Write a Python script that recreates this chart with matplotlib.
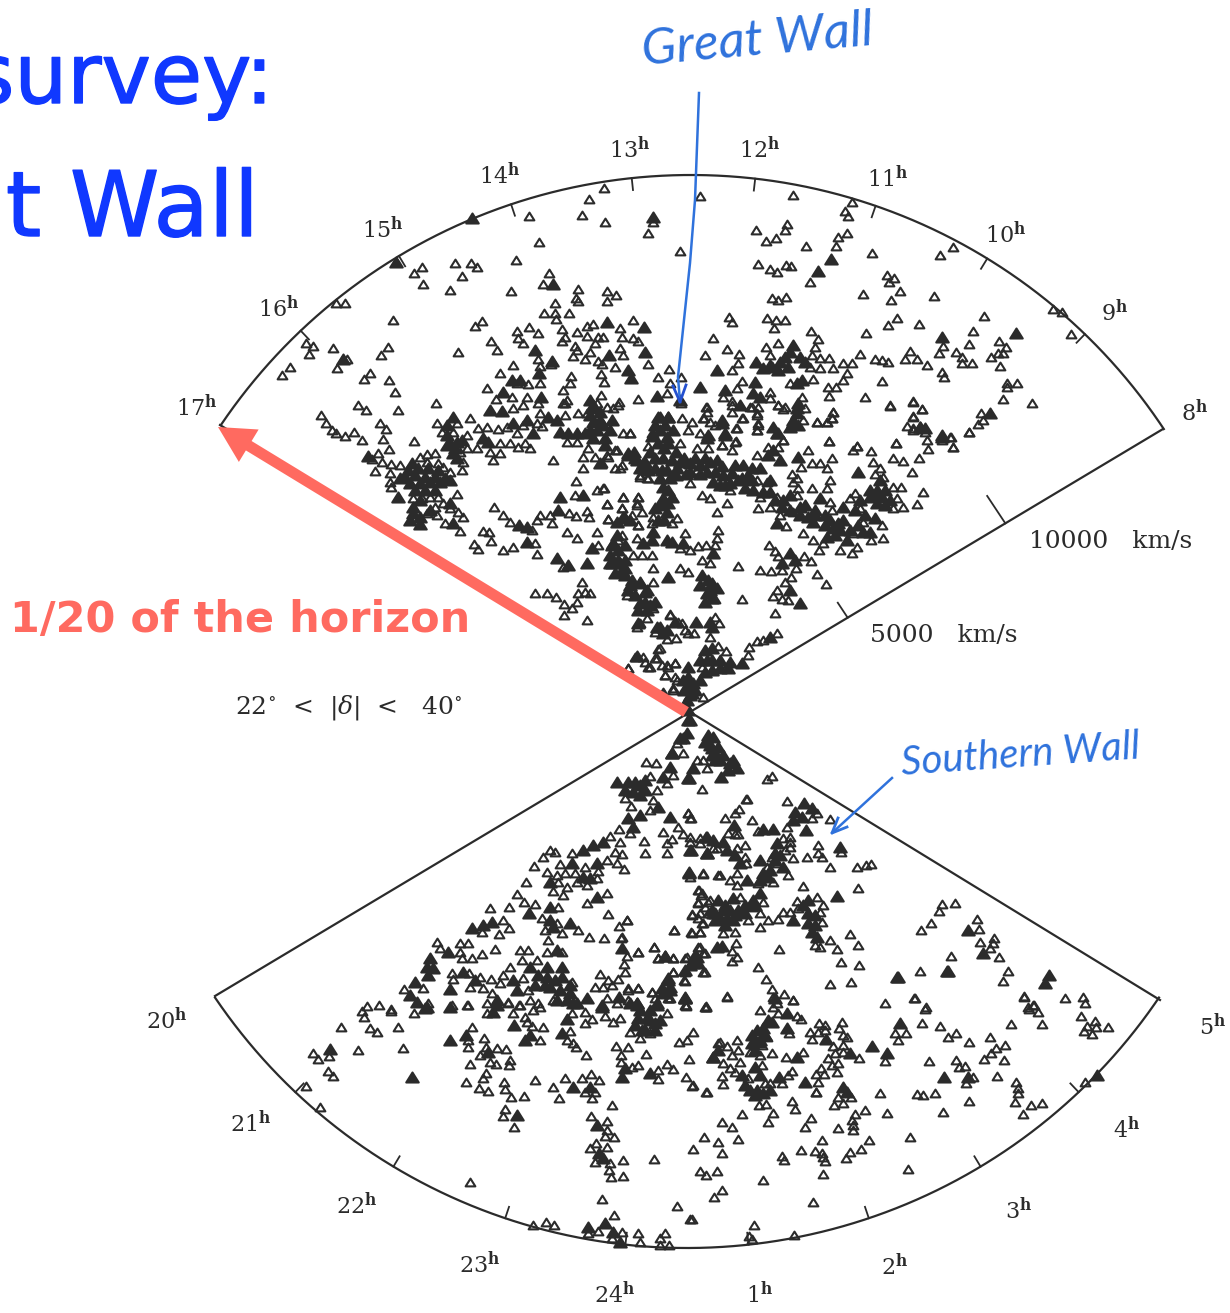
import numpy as np
import matplotlib
matplotlib.use("Agg")
import matplotlib.pyplot as plt
import matplotlib.patheffects as pe
from matplotlib.path import Path

# galaxy positions (map x, map y)
# "open" = single triangles, "dense" = spots where the triangles merge to a blob
north_open = [
(604,188),(589,199),(529,216),(582,215),(605,222),(653,222),(648,233),(539,242),(680,251),(516,260),
(422,267),(414,273),(455,263),(471,263),(477,267),(462,276),(423,284),(450,290),(511,291),(549,273),
(543,284),(578,289),(576,298),(578,301),(607,291),(616,295),(607,301),(336,303),(345,303),(555,303),
(544,313),(555,313),(569,313),(556,319),(393,320),(482,321),(475,326),(517,331),(529,327),(538,333),
(562,329),(565,337),(562,341),(577,332),(587,326),(593,324),(587,336),(633,320),(620,328),(622,337),
(598,337),(603,337),(633,338),(638,341),(518,338),(523,343),(491,341),(497,350),(575,346),(577,350),
(595,343),(590,352),(620,348),(623,355),(573,356),(585,359),(538,359),(598,361),(602,364),(552,361),
(551,364),(540,366),(458,352),(388,347),(381,355),(333,348),(306,343),(313,346),(309,354),(343,359),
(347,359),(337,368),(290,367),(282,375),(370,373),(364,379),(389,380),(395,392),(358,405),(366,410),
(398,410),(436,403),(321,415),(326,423),(332,430),(336,433),(345,436),(354,432),(362,440),(380,423),
(386,429),(383,439),(414,441),(513,365),(500,373),(517,383),(528,384),(540,383),(487,388),(496,399),
(512,397),(527,397),(571,376),(570,383),(563,390),(567,400),(563,403),(601,374),(604,382),(615,367),
(648,364),(658,377),(669,369),(670,383),(681,377),(667,393),(638,399),(619,402),(601,395),(597,403),
(607,407),(613,408),(681,403),
(389,449),(378,453),(372,459),(382,462),(375,471),(391,464),(400,465),(390,473),(390,482),(391,487),
(420,457),(427,454),(435,453),(427,462),(438,463),(443,467),(450,472),(462,470),(463,462),(470,418),
(437,423),(457,423),(442,432),(453,432),(467,435),(460,452),(467,448),(477,448),(490,452),(500,453),
(493,460),(478,428),(487,427),(500,443),(510,443),(518,447),(530,448),(525,443),(498,429),(507,427),
(517,433),(523,425),(513,408),(523,405),(538,403),(565,403),(540,413),(565,415),(578,413),(587,413),
(537,423),(542,426),(567,442),(577,442),(618,405),(623,433),(630,433),(588,448),(583,457),(583,468),
(595,457),(608,457),(617,450),(615,468),(622,465),(640,477),(647,478),(553,460),(576,481),(604,488),
(597,490),(575,495),(494,507),(503,515),(510,522),(532,530),(537,520),(540,515),(550,515),(569,513),
(576,516),(552,523),(587,511),(589,517),(607,504),(608,519),(623,497),(638,497),(622,508),(637,503),
(632,515),(638,525),(567,532),(577,538),(597,532),(598,545),(483,531),(489,532),(491,541),(474,544),
(478,549),(503,550),(513,547),(535,543),(537,554),(563,567),(582,582),(585,592),(590,593),(578,593),
(535,593),(547,593),(556,597),(564,604),(577,602),(564,615),(572,608),(587,620),(457,494),(413,498),
(422,498),(430,497),(438,497),(435,507),(443,503),(437,515),(450,508),(458,512),(463,517),(445,523),
(460,531),(427,513),(618,540),(627,595),(653,608),(647,618),(670,615),(678,622),(685,630),(660,648),
(657,658),(645,662),(650,667),(628,668),(667,665),(675,663),(665,675),(677,680),(673,688),(663,692),
(653,433),(640,475),(648,478),(702,495),(710,498),(727,503),(717,512),(690,483),(697,470),(730,490),
(653,517),(672,523),(677,518),(757,480),(767,482),(760,497),(777,497),(758,508),(770,507),(830,502),
(832,510),(793,512),(780,515),(786,526),(803,533),(823,543),(813,540),(819,550),(840,550),(852,553),
(857,547),(853,533),(883,538),(871,540),(863,522),(882,525),(855,493),(850,498),(860,508),(893,487),
(901,487),(897,498),(893,508),(903,507),(917,504),(923,492),(912,472),(903,461),(893,458),(919,458),
(883,477),(875,474),(880,468),(873,462),(871,451),(896,443),(857,446),(853,450),(830,480),(827,488),
(812,488),(798,488),(797,495),(792,474),(797,478),(793,482),(801,467),(827,468),(820,463),(812,463),
(832,458),(808,450),(783,440),(757,455),(778,447),(829,441),(833,412),(832,418),(827,422),(817,422),
(890,405),(913,416),(922,409),(913,402),(907,426),(913,430),(925,432),(927,440),(928,449),(950,437),
(953,447),(969,432),(942,440),(803,420),(785,407),(778,405),(732,405),(743,418),(752,407),(757,413),
(758,423),(757,430),(740,405),(707,407),(704,418),(715,425),(736,428),(722,445),(736,441),(732,450),
(700,433),(682,418),(692,422),(688,430),(680,443),(697,448),(708,448),(630,433),(652,433),(648,446),
(620,468),(615,450),(607,455),(602,463),(623,497),(638,497),(603,488),(607,504),(637,505),(622,508),
(608,519),(642,512),(638,525),(652,523),(622,535),(637,538),(685,533),(698,546),(706,545),(718,530),
(717,538),(715,545),(690,550),(680,548),(652,555),(642,555),(633,555),(653,568),(653,582),(680,568),
(688,572),(702,560),(710,563),(715,599),(640,623),(637,627),(670,614),(682,623),(688,633),(694,633),
(655,632),(667,639),(676,638),(715,617),(719,623),(738,566),(760,570),(771,571),(782,570),(791,577),
(785,582),(777,590),(773,596),(782,599),(788,600),(775,613),(742,599),(769,545),(775,551),(778,556),
(804,556),(811,561),(796,568),(817,574),(826,584),(757,641),(763,640),(777,633),(749,647),(748,655),
(710,637),(718,646),(726,651),(702,667),(658,649),(655,658),(635,657),(643,657),(648,667),(662,665),
(675,663),(668,667),(665,675),(675,677),(628,668),(703,697),(663,693),(673,690),
(700,196),(793,195),(852,202),(845,211),(848,216),(787,224),(785,230),(756,230),(766,241),(776,238),
(806,246),(847,233),(838,237),(836,246),(872,253),(953,247),(940,255),(758,264),(770,269),(777,272),
(786,265),(791,266),(810,282),(887,275),(894,278),(889,282),(863,294),(900,291),(891,300),(934,296),
(772,298),(778,300),(786,297),(729,317),(732,322),(767,318),(776,320),(785,320),(774,328),(811,331),
(818,339),(897,318),(888,325),(919,324),(866,333),(984,316),(973,331),(1053,309),(1062,312),(1071,334),
(713,338),(705,355),(727,349),(739,354),(738,363),(732,370),(766,347),(778,343),(770,355),(815,347),
(812,355),(820,358),(829,358),(820,368),(810,367),(833,368),(843,363),(852,363),(860,354),(875,359),
(882,360),(888,362),(847,373),(843,380),(882,381),(828,387),(836,387),(829,396),(865,397),(890,406),
(913,401),(922,409),(913,417),(905,359),(910,351),(917,359),(927,365),(943,346),(939,353),(942,372),
(944,377),(956,352),(962,357),(962,363),(972,363),(969,344),(999,341),(1006,347),(998,353),(1003,353),
(991,357),(1000,366),(1007,383),(1017,383),(1007,387),(1003,399),(1032,403),(981,413),(983,420),(978,424),
(969,432),(951,437),(953,447),(896,443),(913,428),(737,388),(723,397),(742,381),(770,392),(770,398),
(732,401),(706,407),(707,412),(703,418),(732,412),(742,418),(737,428),(710,422),(722,445),(735,442),
(750,407),(758,407),(757,415),(778,405),(783,409),(758,425),(757,430),(783,440),(768,447),(805,408),
(802,397),(790,383),(813,379),(817,422),(827,422),(833,412),(832,418),(829,441),(857,446),
]
north_dense = [
(653,217),(472,218),(396,262),(553,284),(607,322),(644,327),(535,350),(645,352),(609,355),(552,361),
(343,359),(539,373),(512,380),(520,380),(503,392),(541,397),(628,370),(631,378),(657,396),(590,400),
(592,408),(680,400),(368,456),(412,463),(405,477),(415,475),(425,477),(435,477),(445,478),(410,483),
(420,483),(430,482),(440,482),(450,480),(453,417),(447,425),(450,443),(457,442),(447,445),(453,453),
(457,458),(483,438),(488,442),(513,423),(527,420),(533,433),(490,410),(502,411),(548,417),(557,420),
(560,432),(568,433),(577,433),(585,433),(593,405),(600,412),(593,422),(597,430),(593,438),(605,438),
(610,430),(612,420),(600,463),(628,453),(635,458),(643,463),(583,495),(560,497),(519,525),(527,527),
(558,510),(625,518),(592,548),(527,542),(557,558),(568,565),(587,563),(398,497),(413,507),(413,513),
(420,517),(450,503),(453,523),(612,545),(618,560),(612,563),(625,568),(632,580),(640,582),(647,590),
(640,603),(638,623),(657,627),(663,633),(637,656),
(658,417),(668,417),(660,417),(668,417),(660,430),(667,437),(658,443),(668,443),(628,455),(637,460),
(645,462),(655,458),(663,458),(672,460),(680,462),(690,463),(700,465),(710,462),(717,460),(715,472),
(723,475),(732,473),(743,465),(752,468),(760,468),(667,470),(655,468),(677,468),(707,472),(713,482),
(725,485),(663,487),(668,490),(663,498),(668,503),(667,512),(655,508),(745,488),(753,490),(763,492),
(770,492),(783,500),(782,507),(800,507),(808,517),(813,522),(820,498),(843,507),(777,523),(838,523),
(843,520),(833,528),(827,537),(847,540),(863,532),(870,532),(875,518),(860,500),(877,490),(882,497),
(877,503),(885,490),(858,472),(798,457),(777,433),(773,450),(768,455),(780,460),(920,427),(942,435),
(797,408),(793,422),(722,423),(707,438),(725,433),(623,517),(617,522),(630,520),(653,532),(613,543),
(643,543),(652,540),(667,540),(672,542),(683,543),(610,563),(620,563),(625,560),(615,573),(625,575),
(630,585),(640,583),(645,592),(668,577),(713,553),(702,575),(712,583),(717,588),(707,593),(705,602),
(655,602),(647,610),(638,610),(660,627),(667,630),(675,622),(696,622),(710,622),(712,627),(782,563),
(790,553),(795,560),(790,590),(800,603),(770,637),(742,663),(705,650),(712,648),(707,660),(712,670),
(720,668),(728,668),(688,667),(688,677),(688,687),(683,680),(693,683),(692,693),(687,700),(688,710),
(1016,333),(831,259),(818,271),(717,370),(793,345),(756,362),(763,368),(772,367),(780,362),(785,357),
(788,367),(778,370),(800,357),(805,362),(942,337),(990,413),(925,428),(920,427),(942,437),(700,387),
(725,390),(755,382),(753,393),(760,397),(740,405),(722,420),(708,435),(725,435),(773,427),(778,433),
(793,420),(790,427),(798,425),(798,403),(797,413),(797,383),(802,380),
(634,452),(650,452),(664,448),(676,452),(684,458),(695,458),(705,458),(722,466),(735,465),(748,475),
(738,480),(720,485),(690,472),(700,474),(640,468),(648,470),(660,478),(670,478),(662,470),(660,505),
(672,497),(658,520),(664,520),(400,478),(408,470),(418,468),(428,468),(438,470),(415,490),(425,490),
(435,490),(420,500),(410,520),(420,524),(430,510),(447,435),(455,448),(462,440),(590,415),(600,420),
(590,430),(603,425),(605,445),(610,555),(618,550),(622,570),(628,590),(635,595),(645,602),(650,605),
(617,535),(625,545),(700,585),(710,590),(712,598),(708,580),(752,480),(775,500),(790,510),(800,515),
(815,510),(825,525),(835,535),(850,530),(858,525),(870,497),(885,505),(875,495),(690,695),(685,705),
(684,690),(695,690),(700,680),(705,672),(700,660),(712,660),(720,660),(730,662),(770,365),(790,352),
(790,495),(805,505),(815,515),(825,515),(830,520),(840,530),(855,510),(865,515),(870,490),(880,480),
(890,500),(730,483),(742,478),(770,480),(676,475),(686,474),(652,436),(673,430),(665,425),(655,425),
]
south_open = [
(677,743),(646,762),(656,763),(683,753),(650,776),(673,775),(657,790),(667,783),(697,760),(703,760),
(707,768),(702,789),(625,798),(631,806),(653,800),(650,810),(630,833),(678,827),(688,813),(690,818),
(683,834),(690,837),(663,832),(672,839),(667,843),(644,841),(645,853),(667,853),(700,843),(713,848),
(619,829),(610,836),(620,842),(572,853),(560,864),(615,852),(622,854),(607,860),(617,863),(624,869),
(598,871),(585,867),(550,850),(555,852),(534,866),(543,857),(547,872),(557,875),(565,873),(558,882),
(575,873),(597,878),(577,882),(587,885),(553,891),(567,887),(563,895),(526,882),(517,894),(587,903),
(607,893),(608,914),(627,920),(619,926),(621,938),(589,937),(604,938),(578,930),(558,907),(535,904),
(524,902),(509,907),(490,908),(503,920),(509,928),(499,934),(482,932),(542,918),(545,930),(548,940),
(562,933),(557,923),(674,930),(692,933),(700,932),(692,915),(698,918),(702,923),(698,890),(702,893),
(698,903),(710,900),(705,907),(703,873),(690,877),(718,875),(437,942),(440,948),(460,943),(468,943),
(460,952),(462,958),(472,958),(482,954),(495,949),(520,950),(528,950),(522,960),(537,960),(547,952),
(562,952),(452,973),(469,973),(453,979),(404,989),(423,988),(428,1003),(367,1006),(379,1005),(391,1009),
(452,1005),(468,1005),(480,977),(491,979),(470,987),(483,988),(492,993),(500,983),(503,975),(510,967),
(523,978),(528,990),(572,982),(553,1000),(487,1003),(508,1002),(520,1005),(530,1000),(538,1003),(600,974),
(608,980),(618,979),(595,987),(603,987),(612,985),(628,988),(638,988),(607,998),(628,1000),(652,992),
(654,947),(638,952),(658,958),(673,958),(673,972),(685,981),(687,957),(627,956),(624,964),(625,972),
(698,947),(703,953),(703,972),(668,998),(686,1005),(705,1007),
(362,1011),(364,1017),(391,1011),(414,1013),(467,1005),(341,1027),(370,1028),(377,1032),(398,1027),(313,1053),
(329,1056),(318,1059),(358,1050),(403,1048),(328,1071),(333,1076),(306,1086),(320,1107),(472,1027),(468,1040),
(468,1047),(484,1038),(486,1047),(480,1055),(497,1048),(506,1049),(470,1064),(490,1062),(496,1064),(510,1060),
(509,1065),(486,1073),(483,1078),(466,1082),(504,1082),(479,1088),(488,1091),(505,1089),(511,1097),(524,1096),
(535,1080),(553,1087),(565,1078),(559,1098),(582,1078),(591,1074),(599,1080),(585,1092),(595,1092),(592,1098),
(612,1105),(505,1109),(503,1116),(514,1127),(591,1116),(607,1121),(607,1130),(605,1136),(614,1137),(596,1143),
(607,1147),(590,1148),(595,1162),(610,1163),(623,1160),(609,1170),(611,1177),(623,1176),(654,1159),(470,1182),
(602,1199),(614,1215),(677,1206),(690,1219),(533,1225),(546,1222),(554,1225),(588,1233),(598,1231),(622,1232),
(612,1238),(638,1233),(640,1242),(665,1233),(660,1238),(660,1245),(669,1245),(616,1046),(628,1047),(586,1055),
(646,1054),(621,1055),(621,1062),(638,1065),(632,1067),(658,1070),(658,1079),(667,1064),(673,1069),(686,1077),
(692,1086),(707,1092),(689,1059),(679,1042),(687,1040),(693,1032),(718,1043),(527,1022),(532,1026),(543,1027),
(540,1040),(525,1017),(570,1031),(567,1040),(573,1043),(576,1047),(585,1023),(592,1019),(613,1022),(605,1016),
(620,1018),(487,1013),(508,1003),(519,1005),(513,1013),(533,1010),(540,1007),(572,1013),(585,1012),(617,1003),
(630,1032),(650,1033),(640,1038),(667,1013),(670,998),(686,1006),(706,1006),
(688,813),(691,818),(746,799),(767,779),(772,776),(787,801),(747,799),(830,819),(787,827),(812,818),
(812,808),(817,813),(790,837),(758,831),(790,842),(725,818),(735,813),(739,809),(752,820),(735,834),
(728,833),(738,834),(700,838),(690,842),(717,848),(737,848),(745,845),(745,857),(746,863),(703,874),
(720,875),(737,873),(730,880),(737,885),(699,890),(701,895),(783,838),(790,847),(785,850),(793,858),
(772,857),(767,867),(777,863),(788,875),(758,883),(773,882),(807,857),(818,845),(818,853),(822,857),
(841,852),(830,867),(857,867),(866,865),(871,864),(858,888),(803,886),(708,902),(698,902),(740,897),
(692,914),(700,913),(708,913),(703,923),(723,933),(735,932),(691,932),(700,932),(674,930),(627,920),
(622,937),(763,902),(752,907),(760,913),(748,920),(760,927),(768,920),(778,919),(783,912),(790,912),
(797,901),(817,897),(823,905),(798,908),(820,912),(822,922),(830,940),(815,945),(820,947),(837,949),
(850,934),(858,945),(841,962),(859,965),(830,984),(851,982),(779,949),(758,967),(766,979),(772,989),
(773,997),(784,994),(793,1000),(777,1003),(921,930),(931,923),(939,911),(942,904),(955,903),(977,919),
(979,929),(994,938),(980,942),(993,943),(990,948),(999,957),(951,956),(920,971),(1008,971),(1003,981),
(914,998),(885,1003),(926,1007),(1024,996),(1033,1005),(1028,1007),(654,947),(638,952),(658,958),(673,958),
(685,958),(700,947),(705,953),(685,972),(705,972),(673,972),(684,980),(736,943),(732,951),(737,957),
(732,961),(652,992),(638,988),(628,990),(685,1005),(669,998),(655,998),(727,996),(706,1007),
(727,997),(706,1007),(793,1000),(760,1010),(773,1007),(778,1013),(797,1016),(801,1019),(915,998),(925,1009),
(1024,997),(1065,998),(1083,997),(1085,1003),(1034,1005),(1029,1009),(1038,1012),(1081,1016),(1011,1024),(1042,1024),
(1095,1021),(1087,1026),(1096,1027),(1108,1027),(1084,1031),(1092,1034),(789,1033),(767,1037),(720,1042),(727,1046),
(737,1040),(732,1055),(738,1050),(750,1052),(762,1045),(772,1053),(760,1055),(786,1057),(803,1052),(723,1063),
(740,1062),(730,1068),(762,1065),(722,1076),(735,1072),(748,1078),(765,1083),(770,1083),(782,1083),(792,1071),
(788,1075),(723,1084),(706,1092),(693,1085),(816,1092),(818,1082),(766,1104),(759,1105),(792,1101),(795,1109),
(742,1114),(773,1113),(768,1122),(722,1122),(732,1127),(811,1118),(805,1127),(704,1137),(718,1142),(738,1139),
(693,1149),(722,1153),(782,1156),(784,1160),(801,1150),(815,1151),(822,1153),(823,1157),(825,1161),(822,1140),
(700,1171),(706,1175),(717,1171),(823,1174),(763,1180),(722,1190),(714,1197),(813,1202),(692,1219),(754,1225),
(749,1236),(752,1239),(794,1235),(819,1023),(825,1025),(842,1022),(839,1028),(810,1032),(818,1032),(825,1030),
(843,1035),(847,1037),(812,1039),(833,1046),(843,1045),(835,1053),(843,1052),(859,1058),(828,1058),(838,1063),
(832,1065),(837,1072),(821,1068),(816,1074),(824,1074),(885,1061),(895,1033),(906,1033),(898,1040),(922,1023),
(940,1026),(948,1037),(956,1033),(969,1042),(990,1037),(1005,1045),(996,1048),(991,1053),(984,1059),(1004,1060),
(929,1061),(956,1060),(959,1067),(965,1066),(973,1077),(966,1083),(997,1076),(1016,1082),(1018,1088),(1018,1093),
(1015,1102),(1031,1105),(1042,1103),(1023,1114),(1085,1082),(880,1093),(917,1094),(923,1095),(935,1093),(969,1101),
(943,1112),(887,1113),(910,1137),(908,1169),(838,1097),(851,1097),(843,1103),(834,1105),(816,1092),(865,1110),
(855,1114),(852,1120),(853,1125),(853,1130),(838,1128),(869,1140),(861,1149),(850,1152),(846,1158),
]
south_dense = [
(688,720),(687,733),(683,738),(672,753),(670,767),(663,777),(688,778),(693,768),(617,782),(628,782),
(640,785),(633,792),(645,790),(658,807),(640,815),(628,818),(633,827),(670,817),(707,837),(691,850),
(707,853),(603,842),(593,845),(583,850),(572,863),(597,863),(550,882),(583,877),(590,878),(597,897),
(570,923),(550,907),(529,913),(492,922),(483,925),(472,928),(550,920),(553,927),(713,913),(689,872),
(448,952),(557,950),(430,958),(427,967),(433,968),(428,975),(463,972),(415,982),(410,995),(417,1002),
(450,989),(425,1008),(475,980),(517,990),(513,980),(530,967),(538,975),(547,967),(547,977),(562,967),
(562,977),(550,987),(560,990),(570,993),(567,1000),(577,1003),(587,998),(497,1000),(619,997),(637,1003),
(602,1007),(657,1003),(665,956),(622,948),(697,957),(693,963),(685,970),(668,980),(670,990),(663,993),
(685,998),(717,947),
(427,1007),(450,1007),(330,1049),(412,1077),(450,1040),(466,1035),(488,1052),(573,1087),(590,1087),(517,1115),
(597,1125),(599,1153),(603,1158),(588,1227),(605,1223),(613,1232),(620,1242),(625,1068),(622,1077),(650,1073),
(713,1057),(514,1025),(525,1040),(530,1035),(562,1033),(567,1019),(497,1005),(493,1012),(557,1000),(573,1003),
(602,1005),(637,1005),(638,1018),(647,1018),(655,1023),(642,1030),(657,1005),(685,998),
(690,720),(680,738),(672,753),(713,737),(708,735),(718,747),(712,748),(723,755),(715,760),(730,763),
(737,768),(689,778),(721,777),(804,803),(812,808),(795,812),(802,817),(793,820),(806,830),(763,829),
(773,829),(734,825),(706,837),(713,840),(690,850),(707,853),(723,842),(727,850),(735,855),(740,863),
(689,873),(747,880),(777,843),(775,853),(760,860),(783,867),(763,873),(768,877),(840,847),(837,896),
(718,900),(733,898),(723,910),(715,913),(730,910),(738,910),(727,918),(720,918),(733,920),(753,900),
(760,893),(745,913),(793,920),(808,900),(808,913),(808,923),(812,932),(817,937),(968,930),(983,953),
(948,971),(897,977),(665,956),(695,955),(690,965),(698,963),(722,946),(668,978),(670,987),(662,988),
(630,1003),(637,1003),(685,997),
(898,977),(947,971),(1049,975),(1045,983),(775,998),(787,1013),(768,1020),(763,1028),(787,1028),(752,1035),
(752,1043),(758,1042),(718,1050),(713,1057),(797,1057),(755,1067),(742,1075),(760,1075),(779,1077),(805,1082),
(750,1090),(757,1090),(763,1093),(826,1039),(850,1053),(872,1046),(887,1053),(900,1023),(944,1077),(968,1077),
(1097,1075),(843,1087),(847,1092),
(705,742),(712,755),(720,760),(728,770),(710,745),(716,755),(733,760),(635,782),(625,790),(640,795),
(645,780),(725,905),(712,910),(735,915),(725,925),(715,920),(745,905),(755,905),(815,925),(815,915),
(803,905),(760,880),(770,870),(775,860),(780,855),(640,1010),(650,1020),(645,1030),(635,1025),(655,1030),
(660,1020),(650,1010),(535,985),(555,980),(545,985),(570,985),(760,1040),(765,1035),(755,1050),(757,1030),
(772,1022),(745,1085),(755,1095),(770,1090),
]

# right ascension hours round the two arcs
north_hours = [8, 9, 10, 11, 12, 13, 14, 15, 16, 17]
south_hours = [20, 21, 22, 23, 24, 1, 2, 3, 4, 5]
north_label_pos = [(1195,413),(1115,313),(1006,235),(888,179),(760,150),(630,150),(500,176),(383,230),(279,309),(197,408)]
south_label_pos = [(167,1021),(251,1124),(357,1206),(480,1265),(615,1295),(760,1295),(895,1267),(1019,1211),(1127,1130),(1213,1027)]

apex = (690, 712)
north_end = [(220, 425), (1163, 429)]
south_end = [(215, 996), (1160, 1000)]
velocity_ticks = [5000, 10000]
velocity_tick_len = [18, 33]
velocity_max = 15000
ink = "#2b2b2b"

fig = plt.figure(figsize=(12.3, 13.13), dpi=100)
ax = fig.add_axes([0, 0, 1, 1])
ax.set_xlim(0, 1230)
ax.set_ylim(1313, 0)
ax.axis("off")

# the two wedges: circular arcs plus straight sides
cx, cy, r = 691, 742, 567
t = np.radians(np.linspace(-56, 56.5, 300))
ax.plot(cx + r*np.sin(t), cy - r*np.cos(t), color=ink, lw=1.6)
for e in north_end:
    ax.plot([apex[0], e[0]], [apex[1], e[1]], color=ink, lw=1.6)
for h in north_hours[1:-1]:
    a = np.radians((12.52 - h)*12.5)
    ax.plot([cx + r*np.sin(a), cx + (r-12)*np.sin(a)], [cy - r*np.cos(a), cy - (r-12)*np.cos(a)], color=ink, lw=1.3)

cx2, cy2, r2 = 687, 678, 570
t = np.radians(np.linspace(-55.9, 55.9, 300))
ax.plot(cx2 + r2*np.sin(t), cy2 + r2*np.cos(t), color=ink, lw=1.6)
for e in south_end:
    ax.plot([apex[0], e[0]], [apex[1], e[1]], color=ink, lw=1.6)
for h in south_hours[1:-1]:
    k = h - 24 if h > 12 else h
    a = np.radians((k - 0.5)*12.4)
    ax.plot([cx2 + r2*np.sin(a), cx2 + (r2-12)*np.sin(a)], [cy2 + r2*np.cos(a), cy2 + (r2-12)*np.cos(a)], color=ink, lw=1.3)

# velocity ticks on the 8h edge
for v, ln in zip(velocity_ticks, velocity_tick_len):
    f = v/velocity_max
    px = apex[0] + f*(north_end[1][0]-apex[0])
    py = apex[1] + f*(north_end[1][1]-apex[1])
    ax.plot([px, px-0.55*ln], [py, py-0.83*ln], color=ink, lw=1.3)

# flatter triangle than the stock '^'
tri = Path([(-1, -0.8), (0, 0.8), (1, -0.8), (-1, -0.8)], closed=True)
for pts, fill, size in [(north_open, "none", 7.0), (south_open, "none", 7.0), (north_dense, ink, 9.0), (south_dense, ink, 9.0)]:
    xy = np.array(pts)
    ax.plot(xy[:,0], xy[:,1], ls="", marker=tri, ms=size, mfc=fill, mec=ink, mew=1.5, zorder=3)

plt.rcParams["mathtext.fontset"] = "dejavuserif"
for h, p in zip(north_hours + south_hours, north_label_pos + south_label_pos):
    ax.text(p[0], p[1], f"{h}" + r"$^{\mathbf{h}}$", family="DejaVu Serif", fontsize=16, color=ink, ha="center", va="center")
ax.text(1111, 541, "10000   km/s", family="DejaVu Serif", fontsize=18, color=ink, ha="center", va="center")
ax.text(944, 636, "5000   km/s", family="DejaVu Serif", fontsize=18, color=ink, ha="center", va="center")
ax.text(349, 707, r"22$^{\circ}$  <  |$\delta$|  <   40$^{\circ}$", family="DejaVu Serif", fontsize=18, color=ink, ha="center", va="center")

# slide title, cut by the left page edge
thick = [pe.withStroke(linewidth=1.0, foreground="#1038ff")]
ax.text(274, 103, "survey:", family="DejaVu Sans", fontsize=60, color="#1038ff", ha="right", va="baseline", path_effects=thick)
ax.text(259, 236, "t Wall", family="DejaVu Sans", fontsize=65, color="#1038ff", ha="right", va="baseline", path_effects=thick)
ax.text(10, 632, "1/20 of the horizon", family="DejaVu Sans", weight="bold", fontsize=31, color="#ff6a60", ha="left", va="baseline")

# red arrow to the arc
ax.arrow(686, 712, 218-686, 427-712, width=11, head_width=38, head_length=36, length_includes_head=True, color="#ff6a60", lw=0, zorder=5)

# pen annotations
pen = "#2f72dc"
ax.text(757, 41, "Great Wall", family="Lato", style="italic", fontsize=37, color=pen, ha="center", va="center", rotation=5)
ax.text(1021, 755, "Southern Wall", family="Lato", style="italic", fontsize=29, color=pen, ha="center", va="center", rotation=4)
ax.plot([699, 695, 690, 678, 680], [93, 200, 263, 377, 402], color=pen, lw=1.8, zorder=4)
ax.plot([673, 680, 686], [386, 402, 385], color="#2450d0", lw=2, zorder=4)
ax.plot([892, 832], [778, 833], color=pen, lw=1.8, zorder=4)
ax.plot([838, 832, 847], [818, 833, 827], color=pen, lw=2, zorder=4)

fig.savefig("out.png", dpi=100)
